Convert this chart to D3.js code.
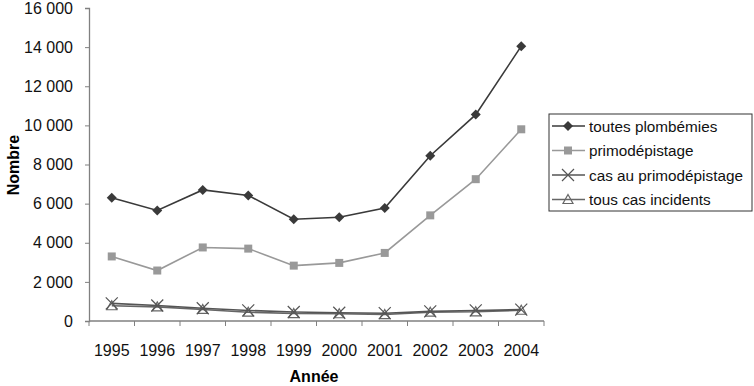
<!DOCTYPE html>
<html>
<head>
<meta charset="utf-8">
<script src="https://cdn.jsdelivr.net/npm/d3@7"></script>
<style>
  body { margin: 0; background: #fff; }
  text { font-family: "Liberation Sans", Arial, sans-serif; }
</style>
</head>
<body>
<div id="chart"></div>
<script>
var years = ['1995','1996','1997','1998','1999','2000','2001','2002','2003','2004'];
var toutesPlombemies = [6300, 5650, 6700, 6420, 5200, 5300, 5780, 8450, 10550, 14050];
var primodepistage = [3300, 2580, 3760, 3700, 2830, 2970, 3480, 5400, 7250, 9800];
var casPrimo = [900, 790, 650, 540, 460, 420, 400, 490, 540, 580];
var tousCasIncidents = [780, 720, 590, 450, 380, 370, 330, 450, 470, 550];
var yTicks = [0, 2000, 4000, 6000, 8000, 10000, 12000, 14000, 16000];

var series = [
  {name: 'toutes plombémies', values: toutesPlombemies, color: '#3a3a3a', marker: 'diamond'},
  {name: 'primodépistage', values: primodepistage, color: '#999999', marker: 'square'},
  {name: 'cas au primodépistage', values: casPrimo, color: '#555555', marker: 'cross'},
  {name: 'tous cas incidents', values: tousCasIncidents, color: '#666666', marker: 'triangle'}
];

var W = 754, H = 386;
var mLeft = 89, mRight = 544, mTop = 8, mBottom = 321;

var svg = d3.select('#chart').append('svg')
  .attr('width', W).attr('height', H);

var x = d3.scaleBand().domain(years).range([mLeft, mRight]);
var y = d3.scaleLinear().domain([0, 16000]).range([mBottom, mTop]);

var fmt = function(d) { return d3.format(',')(d).replace(/,/g, ' '); };

// y axis
var yAx = svg.append('g')
  .attr('transform', 'translate(' + mLeft + ',0)')
  .call(d3.axisLeft(y).tickValues(yTicks).tickSize(4).tickPadding(12).tickFormat(fmt));
yAx.select('.domain').attr('stroke', '#808080').attr('stroke-width', 1.3);
yAx.selectAll('.tick line').attr('stroke', '#808080');
yAx.selectAll('text').attr('font-size', 16).attr('fill', '#111')
  .style('font-family', '"Liberation Sans", Arial, sans-serif');

// x axis: ticks at category boundaries
var xAx = svg.append('g')
  .attr('transform', 'translate(0,' + mBottom + ')');
xAx.append('line')
  .attr('x1', mLeft).attr('x2', mRight).attr('y1', 0).attr('y2', 0)
  .attr('stroke', '#808080').attr('stroke-width', 1.3);
xAx.selectAll('line.tk')
  .data(years.concat(['end']))
  .enter().append('line')
  .attr('class', 'tk')
  .attr('x1', function(d) { return d === 'end' ? mRight : x(d); })
  .attr('x2', function(d) { return d === 'end' ? mRight : x(d); })
  .attr('y1', 0).attr('y2', 5)
  .attr('stroke', '#808080');
xAx.selectAll('text')
  .data(years)
  .enter().append('text')
  .attr('x', function(d) { return x(d) + x.bandwidth() / 2; })
  .attr('y', 35)
  .attr('text-anchor', 'middle')
  .attr('font-size', 16)
  .attr('fill', '#111')
  .text(String);

// axis titles
svg.append('text')
  .attr('x', 314)
  .attr('y', 382)
  .attr('text-anchor', 'middle')
  .attr('font-size', 16).attr('font-weight', 'bold')
  .text('Année');
svg.append('text')
  .attr('transform', 'translate(19,165) rotate(-90)')
  .attr('text-anchor', 'middle')
  .attr('font-size', 16).attr('font-weight', 'bold')
  .text('Nombre');

function drawMarker(g, type, color) {
  if (type === 'diamond') {
    g.append('path').attr('d', 'M0,-5L5,0L0,5L-5,0Z').attr('fill', color);
  } else if (type === 'square') {
    g.append('rect').attr('x', -4).attr('y', -4).attr('width', 8).attr('height', 8).attr('fill', color);
  } else if (type === 'cross') {
    g.append('path').attr('d', 'M-6,-6L6,6M-6,6L6,-6').attr('stroke', color).attr('stroke-width', 1.2).attr('fill', 'none');
  } else {
    g.append('path').attr('d', 'M0,-5L5,4L-5,4Z').attr('stroke', color).attr('stroke-width', 1.2).attr('fill', 'none');
  }
}

var line = d3.line()
  .x(function(d, i) { return x(years[i]) + x.bandwidth() / 2; })
  .y(function(d) { return y(d); });

series.slice().reverse().forEach(function(s) {
  svg.append('path')
    .datum(s.values)
    .attr('d', line)
    .attr('fill', 'none')
    .attr('stroke', s.color)
    .attr('stroke-width', 1.6);
  s.values.forEach(function(v, i) {
    var g = svg.append('g')
      .attr('transform', 'translate(' + (x(years[i]) + x.bandwidth() / 2) + ',' + y(v) + ')');
    drawMarker(g, s.marker, s.color);
  });
});

// legend
var lg = svg.append('g').attr('transform', 'translate(549,114)');
lg.append('rect')
  .attr('x', 0).attr('y', 0).attr('width', 203).attr('height', 97)
  .attr('fill', '#fff').attr('stroke', '#333').attr('stroke-width', 1);
series.forEach(function(s, i) {
  var cy = 12 + i * 24.5;
  lg.append('line')
    .attr('x1', 3).attr('x2', 36).attr('y1', cy).attr('y2', cy)
    .attr('stroke', s.color).attr('stroke-width', 1.4);
  var g = lg.append('g').attr('transform', 'translate(19,' + cy + ')');
  drawMarker(g, s.marker, s.color);
  lg.append('text')
    .attr('x', 40).attr('y', cy + 5.5)
    .attr('font-size', 15.3).attr('fill', '#111')
    .text(s.name);
});
</script>
</body>
</html>
